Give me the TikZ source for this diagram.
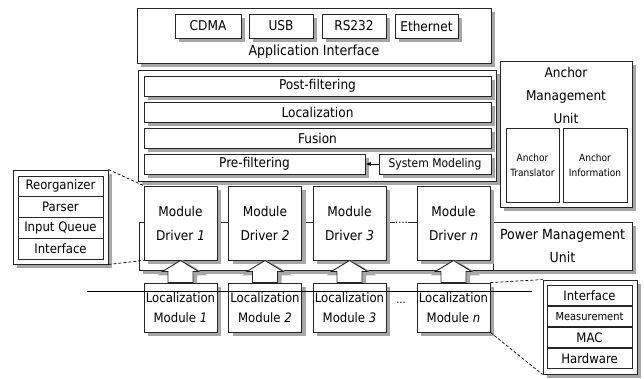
\documentclass[tikz,border=0pt]{standalone}
\usepackage{fontspec}
\setmainfont{DejaVu Sans Condensed}
\usepackage{tikz}
\usetikzlibrary{calc}
\usetikzlibrary{arrows}

\pgfdeclarelayer{front}
\pgfsetlayers{main,front}

\colorlet{shadecol}{black!35}
\tikzset{
  box/.style={draw=black!85, line width=0.9pt, fill=white, inner sep=0pt},
  shadow/.style={draw=shadecol, line width=4pt, line join=miter, line cap=butt},
  port/.style={font=\fontsize{13.5}{15}\selectfont},
  layer/.style={font=\fontsize{13.5}{15}\selectfont},
  row/.style={box, minimum width=85, minimum height=20.8, font=\fontsize{13}{15}\selectfont},
  zoomline/.style={densely dashed, line width=0.7pt}
}
% shadowed box: options, name, x, y, width, height, text
\newcommand{\sbnode}[7]{ \draw[shadow] ( #3 - #5 / 2 + 4 , #4 + #6 / 2 + 2 ) -- ( #3 + #5 / 2 + 2 , #4 + #6 / 2 + 2 ) -- ( #3 + #5 / 2 + 2 , #4 - #6 / 2 + 4 ); \node[box, minimum width=#5, minimum height=#6, #1] (#2) at ( #3 , #4 ){#7};}
\newcommand{\driver}[3]{ \sbnode{align=center, font=\fontsize{13.5}{24}\selectfont}{#1}{#2}{223}{73}{74}{Module\\Driver \textit{#3}}}
\newcommand{\locmod}[3]{ \sbnode{align=center, font=\fontsize{13}{20}\selectfont}{#1}{#2}{307.5}{73}{49}{Localization\\Module \textit{#3}}}
\newcommand{\arrowpath}[4]{ ($(#1.north)+(-12.5+#3,#4)$) -- ($(#2.south)+(-12.5+#3,11+#4)$) -- ($(#2.south)+(-18+#3,11+#4)$) -- ($(#2.south)+(#3,#4)$) -- ($(#2.south)+(18+#3,11+#4)$) -- ($(#2.south)+(12.5+#3,11+#4)$) -- ($(#1.north)+(12.5+#3,#4)$) -- cycle}
\newcommand{\blockarrow}[2]{ \draw[shadow, fill=shadecol] \arrowpath{#1}{#2}{2}{2}; \draw[box] \arrowpath{#1}{#2}{0}{0};}

\begin{document}
\begin{tikzpicture}[x=1pt, y=-1pt]
        \useasboundingbox (0,0) rectangle (644,378);

        % application interface
        \sbnode{}{app}{314}{35.5}{354}{55}{}
        \sbnode{port}{cdma}{208}{26}{66}{24}{CDMA}
        \sbnode{port}{usb}{281}{26}{64}{24}{USB}
        \sbnode{port}{rs}{354}{26}{64}{24}{RS232}
        \sbnode{port}{eth}{426.5}{26}{63}{24}{Ethernet}
        \node[font=\fontsize{14}{15}\selectfont] (apptxt) at ( 314 , 51.5 ){Application Interface};

        % processing
        \sbnode{}{proc}{317}{125.5}{358}{111}{}
        \sbnode{layer}{post}{317.5}{86}{347}{20}{Post-filtering}
        \sbnode{layer}{loc}{317.5}{112}{347}{20}{Localization}
        \sbnode{layer}{fus}{317.5}{138}{347}{20}{Fusion}
        \sbnode{layer}{pre}{254.5}{164}{221}{20}{Pre-filtering}
        \sbnode{font=\fontsize{12}{13}\selectfont}{sys}{435}{164}{112}{20}{System Modeling}
        \draw[-latex, line width=0.9pt] (sys) -- (pre);

        % anchor management
        \sbnode{}{anc}{566}{134}{132}{146}{}
        \node[align=center, font=\fontsize{13.5}{23}\selectfont] (anctxt) at ( 566 , 95 ){Anchor\\Management\\Unit};
        \node[box, minimum width=53, minimum height=74, align=center, font=\fontsize{10}{15}\selectfont] (atr) at ( 532.5 , 165 ){Anchor\\Translator};
        \node[box, minimum width=64, minimum height=74, align=center, font=\fontsize{10}{15}\selectfont] (ainf) at ( 595 , 165 ){Anchor\\Information};

        % driver layer
        \sbnode{}{bus}{385.5}{246}{493}{48}{}
        \sbnode{align=center, font=\fontsize{14}{23}\selectfont}{pmu}{562.5}{246}{139}{48}{Power Management\\Unit}
        \driver{drv1}{180.5}{1}
        \driver{drv2}{265}{2}
        \driver{drv3}{349.5}{3}
        \driver{drvn}{453.5}{n}
        \node[fill=white, inner sep=0.5pt, anchor=base, font=\fontsize{11}{12}\selectfont] (ddots) at ( 401.5 , 223.5 ){....};

        % localization modules
        \begin{pgfonlayer}{front}
        \locmod{lm1}{180.5}{1}
        \locmod{lm2}{265}{2}
        \locmod{lm3}{349.5}{3}
        \locmod{lmn}{453.5}{n}
        \end{pgfonlayer}
        \blockarrow{lm1}{drv1}
        \blockarrow{lm2}{drv2}
        \blockarrow{lm3}{drv3}
        \blockarrow{lmn}{drvn}
        \node[font=\fontsize{11}{12}\selectfont] (mdots) at ( 401 , 303 ){...};

        % driver internals
        \sbnode{}{dstack}{60.5}{217}{95}{94}{}
        \node[row] (reorg) at ( 60.5 , 186.4 ){Reorganizer};
        \node[row] (pars) at ( 60.5 , 207.2 ){Parser};
        \node[row] (inq) at ( 60.5 , 228 ){Input Queue};
        \node[row] (dif) at ( 60.5 , 248.8 ){Interface};

        % module internals
        \sbnode{}{mstack}{590}{327}{94}{94}{}
        \node[row] (mif) at ( 589.5 , 295.5 ){Interface};
        \node[row, font=\fontsize{11}{13}\selectfont] (meas) at ( 589.5 , 316.5 ){Measurement};
        \node[row] (mac) at ( 589.5 , 337.5 ){MAC};
        \node[row] (hw) at ( 589.5 , 358.5 ){Hardware};

        \begin{pgfonlayer}{front}
        % channel
        \coordinate (chl) at ( 87 , 291 );
        \coordinate (chr) at ( 532 , 291 );
        \draw[line width=0.9pt] (chl) -- (chr);

        % zoom lines
        \draw[zoomline] (dstack.north east) -- (drv1.north west);
        \draw[zoomline] (dstack.south east) -- (drv1.south west);
        \draw[zoomline] (lmn.north east) -- (mstack.north west);
        \draw[zoomline] (lmn.south east) -- (mstack.south west);
        \end{pgfonlayer}
    \end{tikzpicture}
\end{document}
